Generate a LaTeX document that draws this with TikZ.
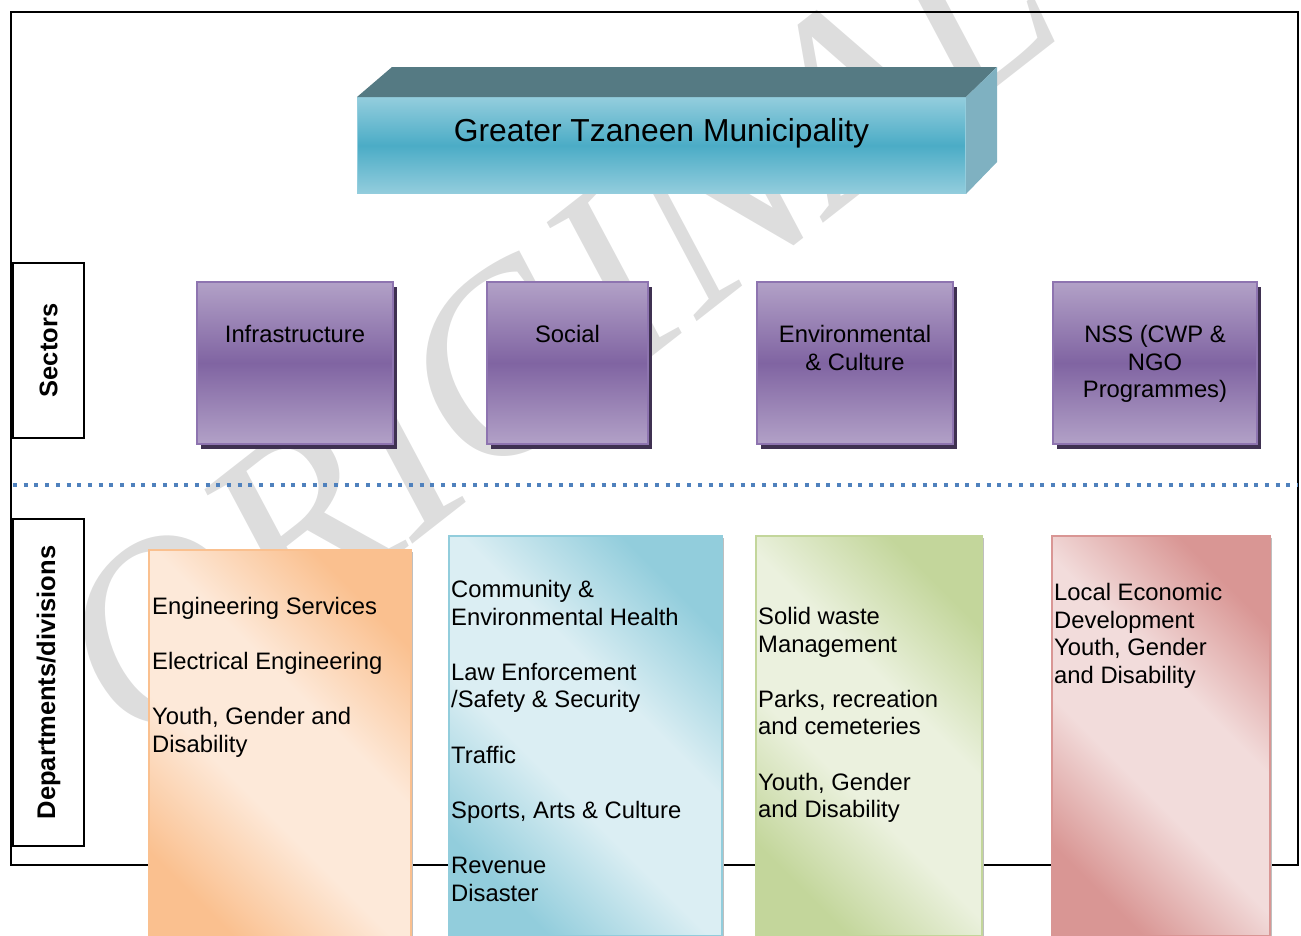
\documentclass[tikz,border=0pt]{standalone}
\usepackage{fontspec}
\setmainfont{Liberation Sans}
\newfontfamily\markfont{Liberation Serif}
\usetikzlibrary{shadows}

\definecolor{framedot}{RGB}{79,129,189}
\definecolor{markgray}{RGB}{221,221,221}
\definecolor{tealtop}{RGB}{85,122,131}
\definecolor{tealside}{RGB}{127,177,193}
\definecolor{teallight}{RGB}{147,205,221}
\definecolor{tealdark}{RGB}{75,172,198}
\definecolor{purplelight}{RGB}{178,161,199}
\definecolor{purpledark}{RGB}{128,100,162}
\definecolor{purpleline}{RGB}{142,116,176}
\definecolor{purpleshadow}{RGB}{63,49,81}
\definecolor{orangedark}{RGB}{250,192,143}
\definecolor{orangelight}{RGB}{253,233,217}
\definecolor{bluedark}{RGB}{146,205,220}
\definecolor{bluelight}{RGB}{219,238,243}
\definecolor{greendark}{RGB}{195,214,155}
\definecolor{greenlight}{RGB}{235,241,222}
\definecolor{reddark}{RGB}{217,150,148}
\definecolor{redlight}{RGB}{242,220,219}

% diagonal glow for the division boxes
\pgfdeclarehorizontalshading{orangeglow}{100bp}{color(0bp)=(orangedark); color(25bp)=(orangedark); color(42bp)=(orangelight); color(58bp)=(orangelight); color(75bp)=(orangedark); color(100bp)=(orangedark)}
\pgfdeclarehorizontalshading{blueglow}{100bp}{color(0bp)=(bluedark); color(25bp)=(bluedark); color(42bp)=(bluelight); color(58bp)=(bluelight); color(75bp)=(bluedark); color(100bp)=(bluedark)}
\pgfdeclarehorizontalshading{greenglow}{100bp}{color(0bp)=(greendark); color(25bp)=(greendark); color(42bp)=(greenlight); color(58bp)=(greenlight); color(75bp)=(greendark); color(100bp)=(greendark)}
\pgfdeclarehorizontalshading{redglow}{100bp}{color(0bp)=(reddark); color(25bp)=(reddark); color(42bp)=(redlight); color(58bp)=(redlight); color(75bp)=(reddark); color(100bp)=(reddark)}

\tikzset{
  sector/.style={draw=purpleline, line width=2pt, top color=purplelight, bottom color=purplelight, middle color=purpledark, minimum height=162, anchor=north west, inner sep=0, drop shadow={fill=purpleshadow, opacity=1, shadow xshift=4pt, shadow yshift=-5pt}},
  division/.style={shade, shading angle=45, line width=1.5pt, minimum height=400, anchor=north west, inner sep=0, drop shadow={fill=black!25, opacity=1, shadow xshift=2.5pt, shadow yshift=-2pt}},
  sidelabel/.style={draw, line width=2pt, rotate=90, inner sep=0, font=\bfseries\fontsize{25.5pt}{28pt}\selectfont},
  boxtext/.style={inner sep=0, font=\fontsize{23.8pt}{27.6pt}\selectfont},
}

\begin{document}
\begin{tikzpicture}[x=1pt, y=-1pt]
  \useasboundingbox (0,0) rectangle (1301,935);
  % watermark
  \node[text=markgray, rotate=38, font=\markfont\itshape\fontsize{260pt}{260pt}\selectfont] (mark) at (555,325) {ORIGINAL};
  % frame and divider
  \draw[line width=2pt] (10.5,865) -- (10.5,12) -- (1298,12) -- (1298,865) -- cycle;
  \draw[framedot, line width=4pt, dash pattern=on 4pt off 6.7pt] (13,485) -- (1298,485);

  % municipality block
  \node[anchor=north west, minimum width=608, minimum height=96, inner sep=0, top color=teallight, bottom color=teallight, middle color=tealdark, draw=teallight, line width=1pt] (gtm) at (357,97) {};
  \fill[tealtop] (gtm.north west) -- (392,67) -- (997,67) -- (gtm.north east) -- cycle;
  \fill[tealside] (gtm.north east) -- (997,67) -- (997,162) -- (gtm.south east) -- cycle;
  \node[anchor=base, inner sep=0, font=\fontsize{31.8pt}{36pt}\selectfont] (gtmtext) at ([yshift=-44.5pt]gtm.north) {Greater Tzaneen Municipality};

  % side labels
  \node[sidelabel, minimum width=175, minimum height=71] (sectors) at (48.5,350.5) {Sectors};
  \node[sidelabel, minimum width=327, minimum height=71] (depts) at (48.5,682.5) {Departments/divisions};

  % sectors
  \node[sector, minimum width=196] (infra) at (196,281) {};
  \node[sector, minimum width=161] (social) at (486,281) {};
  \node[sector, minimum width=196] (envcult) at (756,281) {};
  \node[sector, minimum width=204] (nss) at (1052,281) {};
  \node[boxtext, anchor=base] (infratext) at ([yshift=-61.5pt]infra.north) {Infrastructure};
  \node[boxtext, anchor=base] (socialtext) at ([yshift=-61.5pt]social.north) {Social};
  \node[boxtext, anchor=base] (envculttext) at ([yshift=-61.5pt]envcult.north) {\parbox[t]{190pt}{\centering Environmental\\ \& Culture}};
  \node[boxtext, anchor=base] (nsstext) at ([yshift=-61.5pt]nss.north) {\parbox[t]{200pt}{\centering NSS (CWP \&\\ NGO\\ Programmes)}};

  % departments and divisions
  \node[division, shading=orangeglow, draw=orangedark, minimum width=262] (infradiv) at (148,549) {};
  \node[division, shading=blueglow, draw=bluedark, minimum width=273] (socialdiv) at (448,535) {};
  \node[division, shading=greenglow, draw=greendark, minimum width=226] (envdiv) at (755,535) {};
  \node[division, shading=redglow, draw=reddark, minimum width=218] (nssdiv) at (1051,535) {};
  \node[boxtext, anchor=base west] (infralist) at ([xshift=4pt, yshift=-65.5pt]infradiv.north west) {\parbox[t]{300pt}{\raggedright Engineering Services\\[27.6pt] Electrical Engineering\\[27.6pt] Youth, Gender and\\ Disability}};
  \node[boxtext, anchor=base west] (sociallist) at ([xshift=3pt, yshift=-62.5pt]socialdiv.north west) {\parbox[t]{300pt}{\raggedright Community \&\\ Environmental Health\\[27.6pt] Law Enforcement\\ /Safety \& Security\\[27.6pt] Traffic\\[27.6pt] Sports, Arts \& Culture\\[27.6pt] Revenue\\ Disaster}};
  \node[boxtext, anchor=base west] (envlist) at ([xshift=3pt, yshift=-89.5pt]envdiv.north west) {\parbox[t]{300pt}{\raggedright Solid waste\\ Management\\[27.6pt] Parks, recreation\\ and cemeteries\\[27.6pt] Youth, Gender\\ and Disability}};
  \node[boxtext, anchor=base west] (nsslist) at ([xshift=3pt, yshift=-65.5pt]nssdiv.north west) {\parbox[t]{300pt}{\raggedright Local Economic\\ Development\\ Youth, Gender\\ and Disability}};
\end{tikzpicture}
\end{document}
